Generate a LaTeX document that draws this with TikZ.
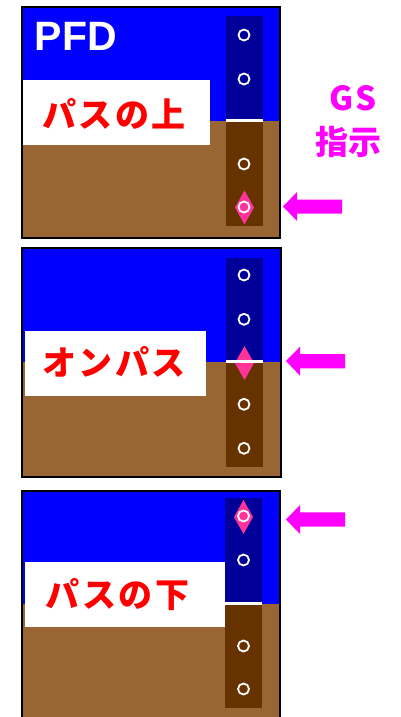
\documentclass[tikz,border=0pt]{standalone}
\usepackage{fontspec}
\setmainfont{Liberation Sans}
\newfontfamily\jpfont{Noto Sans CJK JP}
\definecolor{skyblue}{HTML}{0000FF}
\definecolor{groundbrown}{HTML}{996633}
\definecolor{tapesky}{HTML}{000099}
\definecolor{tapeground}{HTML}{663300}
\definecolor{gspink}{HTML}{FF3399}
\definecolor{gsmag}{HTML}{FF00FF}
\definecolor{labelred}{HTML}{FF0000}
\newcommand\js{\kern2.5pt}
\tikzset{
  frame/.style={draw=black, line width=2pt},
  sky/.style={fill=skyblue},
  ground/.style={fill=groundbrown},
  tapeup/.style={fill=tapesky},
  tapedown/.style={fill=tapeground},
  centerline/.style={draw=white, line width=3pt},
  dot/.style={draw=white, line width=1.8pt},
  gsdiamond/.style={fill=gspink},
  gsarrow/.style={fill=gsmag},
  modebox/.style={fill=white},
  modetext/.style={font=\jpfont\bfseries\fontsize{34}{34}\selectfont, text=labelred, inner sep=0pt},
}
\begin{document}
\begin{tikzpicture}[x=1pt,y=-1pt]
\useasboundingbox (0,0) rectangle (401,717);

% ---- panel 1: above the path ----
\fill[ground] (21.5,7.5) rectangle (280,237.5);
\fill[sky] (21.5,7.5) rectangle (280,120.5);
\fill[modebox] (22.5,80) rectangle (210,145);
\fill[tapeup] (226,16) rectangle (263,120.5);
\fill[tapedown] (226,120.5) rectangle (263,226);
\fill[gsdiamond] (244.5,190.5) -- (254,207.5) -- (244.5,224.5) -- (235,207.5) -- cycle;
\draw[centerline] (226,120.5) -- (263,120.5);
\foreach \y in {35,79,164,207} \draw[dot] (244,\y) circle (5.5);
\draw[frame] (21.5,7.5) rectangle (280,237.5);
\node[anchor=base west, inner sep=0pt, text=white, font=\bfseries\fontsize{41}{41}\selectfont] (pfd) at (34.5,51) {PFD};
\node[modetext] (above) at (114,114) {パ\js ス\js の\js 上};
\fill[gsarrow] (283,206.5) -- (297,192) -- (297,199.5) -- (342,199.5) -- (342,213.5) -- (297,213.5) -- (297,221) -- cycle;

% GS indication caption
\node[anchor=base, inner sep=0pt, text=gsmag, font=\jpfont\bfseries\fontsize{33}{33}\selectfont] (gs) at (353,110.5) {G\kern1.5pt S};
\node[inner sep=0pt, text=gsmag, font=\jpfont\bfseries\fontsize{33}{33}\selectfont] (gsind) at (348.5,141.5) {指示};

% ---- panel 2: on the path ----
\fill[ground] (21.5,247.5) rectangle (281,477);
\fill[sky] (21.5,247.5) rectangle (281,361.7);
\fill[modebox] (25,331) rectangle (206,396);
\fill[tapeup] (226,257.5) rectangle (263,361.7);
\fill[tapedown] (226,361.7) rectangle (263,466.5);
\fill[gsdiamond] (244.5,346) -- (254,363) -- (244.5,380) -- (235,363) -- cycle;
\draw[centerline] (226,361.7) -- (263,361.7);
\foreach \y in {275,319.3,404.3,448.3} \draw[dot] (244,\y) circle (5.5);
\draw[frame] (21.5,247.5) rectangle (281,477);
\node[modetext] (onpath) at (114,361.5) {オ\js ン\js パ\js ス};
\fill[gsarrow] (286,361) -- (300,346.7) -- (300,354) -- (345,354) -- (345,368.3) -- (300,368.3) -- (300,375.7) -- cycle;

% ---- panel 3: below the path ----
\fill[ground] (21.5,491) rectangle (280,722);
\fill[sky] (21.5,491) rectangle (280,604);
\fill[modebox] (25,562) rectangle (225,627);
\fill[tapeup] (225,498) rectangle (262,603);
\fill[tapedown] (225,603) rectangle (262,708);
\draw[centerline] (225,603) -- (262,603);
\fill[gsdiamond] (243.5,500) -- (253,517) -- (243.5,534) -- (234,517) -- cycle;
\foreach \y in {516,560,646,689} \draw[dot] (243.5,\y) circle (5.5);
\draw[frame] (21.5,491) rectangle (280,722);
\node[modetext] (below) at (117.5,594.5) {パ\js ス\js の\js 下};
\fill[gsarrow] (286,519.5) -- (300,505) -- (300,512.3) -- (345,512.3) -- (345,526.7) -- (300,526.7) -- (300,534) -- cycle;
\end{tikzpicture}
\end{document}
